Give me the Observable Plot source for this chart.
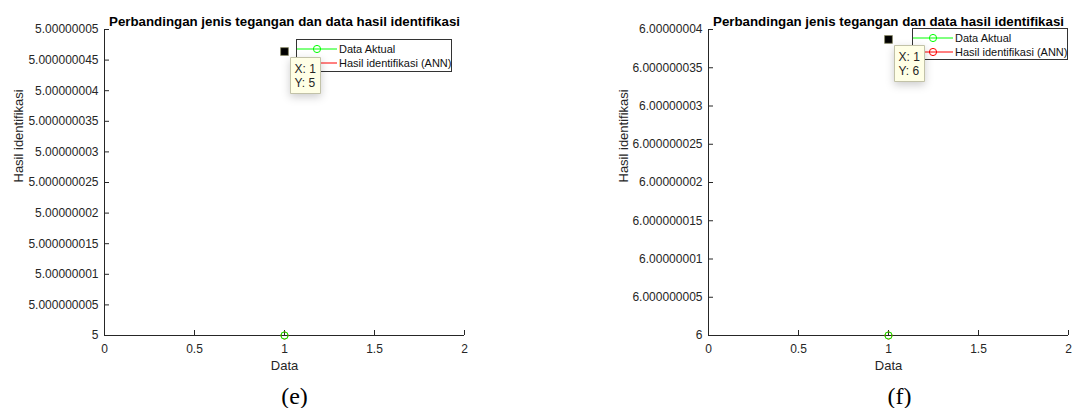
<!DOCTYPE html>
<html>
<head>
<meta charset="utf-8">
<script src="https://cdn.jsdelivr.net/npm/d3@7"></script>
<script src="https://cdn.jsdelivr.net/npm/@observablehq/plot@0.6"></script>
<style>
  html, body { margin: 0; padding: 0; background: #fff; }
  #wrap { position: relative; width: 1073px; height: 408px; overflow: hidden; font-family: "Liberation Sans", Arial, sans-serif; }
  .panel { position: absolute; top: 0; z-index: 2; }
  .panel svg { background: transparent !important; overflow: visible; }
  .legend { position: absolute; z-index: 1; box-sizing: border-box; border: 1px solid #333; background: #fff; width: 156px; font-size: 11px; color: #111; }
  .legend .row { display: flex; align-items: center; height: 14px; white-space: nowrap; }
  .legend svg { display: block; flex: none; }
</style>
</head>
<body>
<div id="wrap"></div>
<script>
// ---- data ----
const titleText = "Perbandingan jenis tegangan dan data hasil identifikasi";
const xLabel = "Data";
const yLabel = "Hasil identifikasi";
const seriesNames = ["Data Aktual", "Hasil identifikasi (ANN)"];
const seriesColors = ["#00ff00", "#ff0000"];
const xTicks = [0, 0.5, 1, 1.5, 2];
const dataIndex = [1];

// panel (e)
const aktualE = [5];
const annE = [5];
const yTickLabelsE = ["5", "5.000000005", "5.00000001", "5.000000015", "5.00000002", "5.000000025", "5.00000003", "5.000000035", "5.00000004", "5.000000045", "5.00000005"];
const tipPointE = { x: 1, y: 5.0000000464, label: "X: 1\nY: 5" };

// panel (f)
const aktualF = [6];
const annF = [6];
const yTickLabelsF = ["6", "6.000000005", "6.00000001", "6.000000015", "6.00000002", "6.000000025", "6.00000003", "6.000000035", "6.00000004"];
const tipPointF = { x: 1, y: 6.0000000387, label: "X: 1\nY: 6" };

// ---- drawing ----
const FONT = "'Liberation Sans', Arial, sans-serif";
const AX = "#262626";

function panel({ left, width, marginLeft, marginRight, yTickLabels, aktual, ann, tip, caption, captionDx, yLabelDx }) {
  const yTicks = yTickLabels.map(Number);
  const yMin = yTicks[0], yMax = yTicks[yTicks.length - 1];
  const labelOf = new Map(yTicks.map((v, i) => [v, yTickLabels[i]]));
  const rows = dataIndex.map((x, i) => ({ x, aktual: aktual[i], ann: ann[i] }));
  const marginTop = 29, height = 408, marginBottom = 73;
  const frameW = width - marginLeft - marginRight;
  const frameH = height - marginTop - marginBottom;
  const chart = Plot.plot({
    width, height, marginLeft, marginRight, marginTop, marginBottom,
    style: { fontFamily: FONT, fontSize: "12px", color: AX, background: "transparent", overflow: "visible" },
    x: { domain: [xTicks[0], xTicks[xTicks.length - 1]], axis: null },
    y: { domain: [yMin, yMax], axis: null },
    marks: [
      // inward ticks
      Plot.tickX(xTicks, { x: d => d, stroke: AX, strokeWidth: 1, insetTop: frameH - 5 }),
      Plot.tickY(yTicks, { y: d => d, stroke: AX, strokeWidth: 1, insetRight: frameW - 5 }),
      // axis lines
      Plot.ruleX([xTicks[0]], { stroke: AX, strokeWidth: 1 }),
      Plot.ruleY([yMin], { stroke: AX, strokeWidth: 1 }),
      // tick labels
      Plot.axisX(xTicks, { tickSize: 0, tickPadding: 9, fontSize: 12, fill: AX, label: null, tickFormat: d => String(d) }),
      Plot.axisY(yTicks, { tickSize: 0, tickPadding: 6, fontSize: 12, fill: AX, label: null, tickFormat: d => labelOf.get(d) }),
      // series
      Plot.dot(rows, { x: "x", y: "ann", stroke: seriesColors[1], r: 3.6, strokeWidth: 1, fill: "none" }),
      Plot.dot(rows, { x: "x", y: "aktual", stroke: seriesColors[0], r: 3.6, strokeWidth: 1, fill: "none" }),
      // data tip marker and box
      Plot.dot([tip], { x: "x", y: "y", symbol: "square", r: 4.4, fill: "#000", stroke: "#8a8a66", strokeWidth: 0.8 }),
      Plot.tip([tip], { x: "x", y: "y", title: "label", anchor: "top-left", pointerSize: 0, dx: 6, dy: 6,
        fill: "#ffffe6", stroke: "#c2c2a8", textPadding: 4, lineHeight: 1.2, fontSize: 12, fontFamily: FONT }),
      // texts
      Plot.text([titleText], { frameAnchor: "top", dy: -13, fontWeight: "bold", fontSize: 13.3, fill: "#000" }),
      Plot.text([xLabel], { frameAnchor: "bottom", dy: 34, fontSize: 13, fill: AX }),
      Plot.text([yLabel], { frameAnchor: "left", rotate: -90, dx: yLabelDx, fontSize: 13, fill: AX }),
      Plot.text([caption], { frameAnchor: "bottom", dx: captionDx, dy: 68, fontSize: 24, fontFamily: "'Liberation Serif', 'Times New Roman', serif", fill: "#000" })
    ]
  });
  const div = document.createElement("div");
  div.className = "panel";
  div.style.left = left + "px";
  div.appendChild(chart);
  document.getElementById("wrap").appendChild(div);
}

function legend({ left, top, height, padTop }) {
  const box = d3.select("#wrap").append("div").attr("class", "legend")
    .style("left", left + "px").style("top", top + "px").style("height", height + "px")
    .style("padding-top", padTop + "px");
  seriesNames.forEach((name, i) => {
    const row = box.append("div").attr("class", "row");
    const s = row.append("svg").attr("width", 41).attr("height", 14);
    s.append("line").attr("x1", 0).attr("x2", 40).attr("y1", 7).attr("y2", 7).attr("stroke", seriesColors[i]).attr("stroke-width", 1);
    s.append("circle").attr("cx", 20).attr("cy", 7).attr("r", 3.6).attr("fill", "none").attr("stroke", seriesColors[i]).attr("stroke-width", 1);
    row.append("span").style("margin-left", "1px").text(name);
  });
}

panel({ left: 0, width: 536, marginLeft: 104, marginRight: 72, yTickLabels: yTickLabelsE, aktual: aktualE, ann: annE, tip: tipPointE, caption: "(e)", captionDx: 10, yLabelDx: -86 });
panel({ left: 536, width: 537, marginLeft: 172, marginRight: 5, yTickLabels: yTickLabelsF, aktual: aktualF, ann: annF, tip: tipPointF, caption: "(f)", captionDx: 11, yLabelDx: -85 });
legend({ left: 296, top: 39, height: 33, padTop: 2 });
legend({ left: 912, top: 28, height: 32, padTop: 2 });
</script>
</body>
</html>
